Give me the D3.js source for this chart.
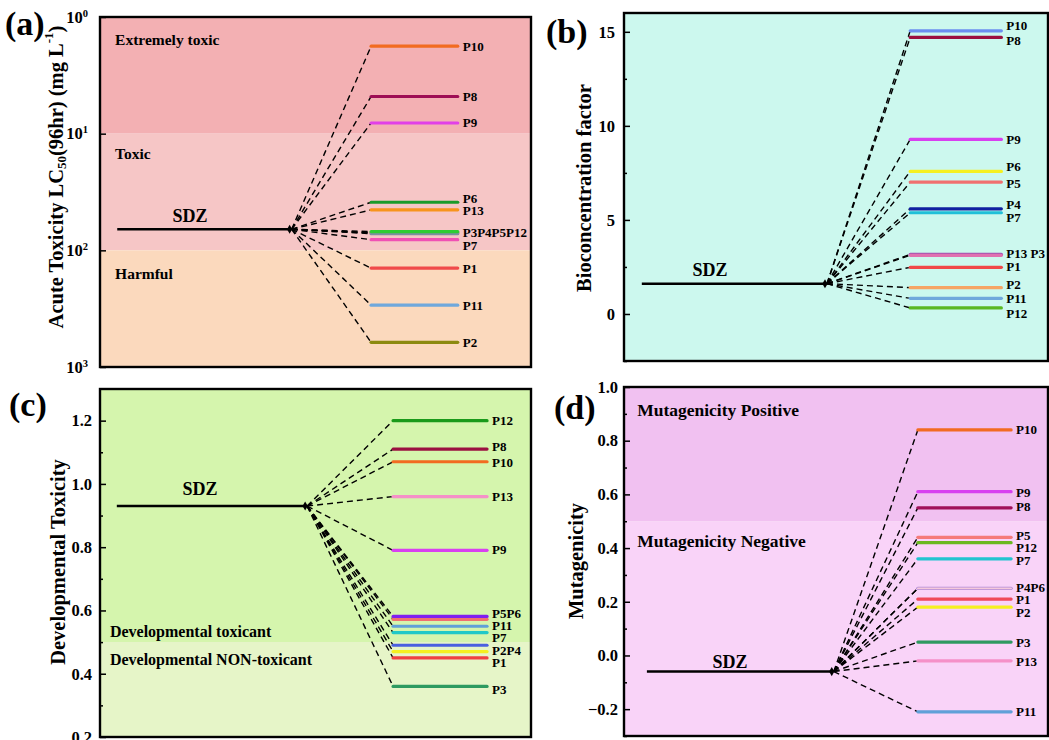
<!DOCTYPE html>
<html>
<head>
<meta charset="utf-8">
<script src="https://cdn.jsdelivr.net/npm/d3@7"></script>
<style>
  body { margin: 0; background: #fff; }
  svg text { font-family: "Liberation Serif", "Times New Roman", serif; font-weight: bold; fill: #000; }
</style>
</head>
<body>
<div id="chart"></div>
<script>
// ---------- panel (a) acute toxicity, log axis ----------
const aNames  = ["P10", "P8", "P9", "P6", "P13", "P3", "P5", "P4", "P12", "P7", "P1", "P11", "P2"];
const aValues = [1.78, 4.8, 8.1, 38.7, 45, 70.5, 71, 72, 69, 81, 142, 295, 614];
const aColors = ["#f26b21", "#9e0e55", "#e23fe8", "#1b9a2a", "#f7941d", "#3cb371", "#f07070", "#7d8fa0", "#2fcc33", "#f050b4", "#f04a4a", "#6fa8dc", "#8b8a10"];
const aLabels = ["P10", "P8", "P9", "P6", "P13", "P3P4P5P12", "P7", "P1", "P11", "P2"];
const aLabelVals = [1.78, 4.8, 8.1, 36, 45.7, 71, 91, 142, 295, 614];
const aSDZ = 66;
const aTicks = [1, 10, 100, 1000];
const aBandEdges = [1, 10, 100, 1000];
const aBandColors = ["#f3b0b3", "#f6c6c6", "#fbd9bd"];
const aBandLabels = ["Extremely toxic", "Toxic", "Harmful"];
const aBandLabelVals = [1.57, 14.9, 158];

// ---------- panel (b) bioconcentration factor ----------
const bNames  = ["P10", "P8", "P9", "P6", "P5", "P4", "P7", "P3", "P13", "P1", "P2", "P11", "P12"];
const bValues = [15.05, 14.7, 9.28, 7.58, 7.01, 5.59, 5.38, 3.17, 3.12, 2.48, 1.40, 0.83, 0.32];
const bColors = ["#6b8ff0", "#9b1040", "#d840f0", "#f5f020", "#f07070", "#1020a0", "#20c0d8", "#a050b0", "#e070b0", "#f04848", "#f5a565", "#70a8dc", "#5ab820"];
const bLabels = ["P10", "P8", "P9", "P6", "P5", "P4", "P7", "P13 P3", "P1", "P2", "P11", "P12"];
const bLabelVals = [15.33, 14.52, 9.28, 7.86, 6.92, 5.84, 5.11, 3.22, 2.51, 1.58, 0.83, 0.04];
const bSDZ = 1.61;
const bTicks = [0, 5, 10, 15];
const bMinor = [-2.5, 2.5, 7.5, 12.5];
const bBandEdges = [-2.5, 16];
const bBandColors = ["#ccf8ee"];

// ---------- panel (c) developmental toxicity ----------
const cNames  = ["P12", "P8", "P10", "P13", "P9", "P5", "P6", "P11", "P7", "P4", "P2", "P1", "P3"];
const cValues = [1.2, 1.11, 1.07, 0.96, 0.79, 0.572, 0.581, 0.55, 0.53, 0.49, 0.47, 0.45, 0.36];
const cColors = ["#1a9a1a", "#9b1040", "#f26b21", "#f590c8", "#d840f0", "#f07070", "#8020f0", "#60a0d8", "#20c8c8", "#4a60e0", "#f5f020", "#f04040", "#2e9a60"];
const cLabels = ["P12", "P8", "P10", "P13", "P9", "P5P6", "P11", "P7", "P2P4", "P1", "P3"];
const cLabelVals = [1.2, 1.118, 1.068, 0.96, 0.793, 0.591, 0.553, 0.515, 0.473, 0.435, 0.351];
const cSDZ = 0.93;
const cTicks = [0.2, 0.4, 0.6, 0.8, 1.0, 1.2];
const cMinor = [0.3, 0.5, 0.7, 0.9, 1.1];
const cBandEdges = [0.2, 0.5, 1.3];
const cBandColors = ["#e6f5c8", "#d5f5ad"];
const cBandLabels = ["Developmental NON-toxicant", "Developmental toxicant"];
const cBandLabelVals = [0.445, 0.535];

// ---------- panel (d) mutagenicity ----------
const dNames  = ["P10", "P9", "P8", "P5", "P12", "P7", "P4", "P6", "P1", "P2", "P3", "P13", "P11"];
const dValues = [0.84, 0.61, 0.55, 0.44, 0.42, 0.36, 0.25, 0.25, 0.21, 0.18, 0.05, -0.02, -0.21];
const dColors = ["#f26b21", "#d840f0", "#a0105a", "#f57a7a", "#6ab820", "#20c4d0", "#b08ad8", "#f6c8dc", "#f04858", "#f5f020", "#2e9a60", "#f590c8", "#60a0d8"];
const dLabels = ["P10", "P9", "P8", "P5", "P12", "P7", "P4P6", "P1", "P2", "P3", "P13", "P11"];
const dLabelVals = [0.84, 0.606, 0.555, 0.448, 0.403, 0.355, 0.254, 0.21, 0.159, 0.05, -0.024, -0.21];
const dSDZ = -0.06;
const dTicks = [-0.2, 0.0, 0.2, 0.4, 0.6, 0.8, 1.0];
const dMinor = [-0.3, -0.1, 0.1, 0.3, 0.5, 0.7, 0.9];
const dBandEdges = [-0.3, 0.5, 1.0];
const dBandColors = ["#f9d3f8", "#f1c1f1"];
const dBandLabels = ["Mutagenicity Negative", "Mutagenicity Positive"];
const dBandLabelVals = [0.425, 0.915];

const svg = d3.select("#chart").append("svg")
  .attr("width", 1049)
  .attr("height", 740);

function drawPanel(p) {
  const g = svg.append("g");
  // x is just a layout axis 0..10
  const x = d3.scaleLinear().domain([0, 10]).range([p.left, p.right]);
  const y = p.log
    ? d3.scaleLog().domain([p.edges[0], p.edges[p.edges.length - 1]]).range([p.top, p.bottom])
    : d3.scaleLinear().domain([p.edges[0], p.edges[p.edges.length - 1]]).range([p.bottom, p.top]);

  // background bands
  p.bandColors.forEach((c, i) => {
    const y0 = y(p.edges[i]), y1 = y(p.edges[i + 1]);
    g.append("rect")
      .attr("x", p.left).attr("width", p.right - p.left)
      .attr("y", Math.min(y0, y1)).attr("height", Math.abs(y1 - y0))
      .attr("fill", c);
  });

  (p.bandLabels || []).forEach((t, i) => {
    g.append("text")
      .attr("x", x(p.bandLabelX))
      .attr("y", y(p.bandLabelVals[i]))
      .attr("dominant-baseline", "central")
      .style("font-size", p.bandFont + "px")
      .text(t);
  });

  // SDZ line
  g.append("line")
    .attr("x1", x(p.sdzX[0])).attr("x2", x(p.sdzX[1]))
    .attr("y1", y(p.sdz)).attr("y2", y(p.sdz))
    .attr("stroke", "#000").attr("stroke-width", 2.4);

  g.append("text")
    .attr("x", x(p.sdzLabelX))
    .attr("y", y(p.sdz) - p.sdzLabelDy)
    .attr("text-anchor", "middle")
    .style("font-size", "18px")
    .text("SDZ");

  // dashed connectors
  p.values.forEach(v => {
    g.append("line")
      .attr("x1", x(p.sdzX[1]) + 2).attr("y1", y(p.sdz))
      .attr("x2", x(p.prodX[0])).attr("y2", y(v))
      .attr("stroke", "#000")
      .attr("stroke-width", 1.4)
      .attr("stroke-dasharray", "6 4");
  });

  g.append("path")
    .attr("d", d3.symbol(d3.symbolDiamond, 24)())
    .attr("transform", `translate(${x(p.sdzX[1])},${y(p.sdz)})`)
    .attr("fill", "#000");

  // product levels
  p.values.forEach((v, i) => {
    const dup = p.values.slice(0, i).includes(v);
    g.append("line")
      .attr("x1", x(p.prodX[0])).attr("x2", x(p.prodX[1]))
      .attr("y1", y(v)).attr("y2", y(v))
      .attr("stroke", p.colors[i])
      .attr("stroke-width", dup ? 1.8 : 3.2)
      .attr("stroke-linecap", "round");
  });

  p.labels.forEach((t, i) => {
    g.append("text")
      .attr("x", x(p.prodX[1]) + 5)
      .attr("y", y(p.labelVals[i]))
      .attr("dominant-baseline", "central")
      .style("font-size", "13px")
      .text(t);
  });

  // axis (ticks inside)
  const axis = d3.axisLeft(y).tickValues(p.ticks).tickSizeInner(-6).tickSizeOuter(0).tickPadding(p.pad);
  if (!p.log) axis.tickFormat(p.fmt);
  else axis.tickFormat("");
  const ag = g.append("g").attr("transform", `translate(${p.left},0)`).call(axis);
  ag.select(".domain").remove();
  ag.selectAll("line").attr("stroke", "#000").attr("stroke-width", 1.5);
  ag.selectAll("text").style("font-size", "16.5px").attr("fill", "#000");
  if (p.log) {
    ag.selectAll(".tick text").each(function(d) {
      const t = d3.select(this);
      t.append("tspan").text("10");
      t.append("tspan").attr("dy", -6).style("font-size", "10.5px").text(Math.round(Math.log10(d)));
    });
  }

  if (p.minor) {
    const mg = g.append("g").attr("transform", `translate(${p.left},0)`)
      .call(d3.axisLeft(y).tickValues(p.minor).tickSizeInner(-3).tickSizeOuter(0).tickFormat(""));
    mg.select(".domain").remove();
    mg.selectAll("line").attr("stroke", "#000").attr("stroke-width", 1.5);
  }

  // frame
  g.append("rect")
    .attr("x", p.left).attr("y", p.top)
    .attr("width", p.right - p.left).attr("height", p.bottom - p.top)
    .attr("fill", "none").attr("stroke", "#000").attr("stroke-width", 2.4);

  // y title
  const title = g.append("text")
    .attr("transform", `translate(${p.titleX},${p.titleY}) rotate(-90)`)
    .attr("text-anchor", "middle")
    .attr("dominant-baseline", "central")
    .style("font-size", "20.5px");
  p.title(title);

  // panel letter
  g.append("text")
    .attr("x", p.letterPos[0]).attr("y", p.letterPos[1])
    .style("font-size", "34px")
    .text(p.letter);
}

drawPanel({
  left: 100, right: 531, top: 17, bottom: 367, log: true,
  edges: aBandEdges, bandColors: aBandColors,
  bandLabels: aBandLabels, bandLabelVals: aBandLabelVals, bandLabelX: 0.35, bandFont: 15.5,
  ticks: aTicks, pad: 12,
  sdz: aSDZ, sdzX: [0.4, 4.4], sdzLabelX: 2.09, sdzLabelDy: 7,
  prodX: [6.29, 8.3],
  values: aValues, colors: aColors, labels: aLabels, labelVals: aLabelVals,
  titleX: 56, titleY: 177,
  title: t => {
    t.append("tspan").text("Acute Toxicity LC");
    t.append("tspan").attr("dy", 5).style("font-size", "13px").text("50");
    t.append("tspan").attr("dy", -5).text("(96hr) (mg L");
    t.append("tspan").attr("dy", -8).style("font-size", "13px").text("-1");
    t.append("tspan").attr("dy", 8).text(")");
  },
  letter: "(a)", letterPos: [5, 35]
});

drawPanel({
  left: 624, right: 1048, top: 13, bottom: 361,
  edges: bBandEdges, bandColors: bBandColors,
  ticks: bTicks, minor: bMinor, pad: 9, fmt: d3.format("d"),
  sdz: bSDZ, sdzX: [0.42, 4.74], sdzLabelX: 2.03, sdzLabelDy: 8,
  prodX: [6.75, 8.9],
  values: bValues, colors: bColors, labels: bLabels, labelVals: bLabelVals,
  titleX: 584, titleY: 188,
  title: t => t.text("Bioconcentration factor"),
  letter: "(b)", letterPos: [546, 43]
});

drawPanel({
  left: 100, right: 531, top: 389, bottom: 737,
  edges: cBandEdges, bandColors: cBandColors,
  bandLabels: cBandLabels, bandLabelVals: cBandLabelVals, bandLabelX: 0.23, bandFont: 16,
  ticks: cTicks, minor: cMinor, pad: 8, fmt: d3.format(".1f"),
  sdz: cSDZ, sdzX: [0.39, 4.76], sdzLabelX: 2.32, sdzLabelDy: 11,
  prodX: [6.8, 8.98],
  values: cValues, colors: cColors, labels: cLabels, labelVals: cLabelVals,
  titleX: 58, titleY: 562,
  title: t => t.text("Developmental Toxicity"),
  letter: "(c)", letterPos: [9, 416]
});

drawPanel({
  left: 624, right: 1048, top: 387, bottom: 736,
  edges: dBandEdges, bandColors: dBandColors,
  bandLabels: dBandLabels, bandLabelVals: dBandLabelVals, bandLabelX: 0.31, bandFont: 17.5,
  ticks: dTicks, minor: dMinor, pad: 6, fmt: d3.format(".1f"),
  sdz: dSDZ, sdzX: [0.54, 4.9], sdzLabelX: 2.5, sdzLabelDy: 4,
  prodX: [6.93, 9.13],
  values: dValues, colors: dColors, labels: dLabels, labelVals: dLabelVals,
  titleX: 576, titleY: 561,
  title: t => t.text("Mutagenicity"),
  letter: "(d)", letterPos: [554, 419]
});
</script>
</body>
</html>
